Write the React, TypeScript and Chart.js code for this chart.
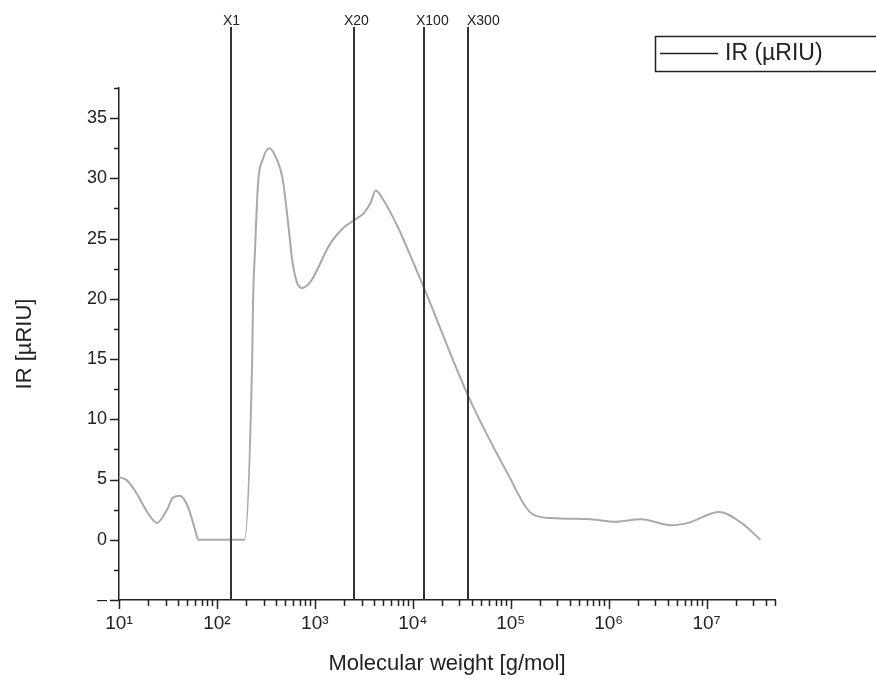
import React, { useEffect, useRef } from "react";
import { Chart, registerables } from "chart.js";

Chart.register(...registerables);

// Molecular weight (g/mol) and IR signal (µRIU)
const molWeight = [
  10, 12, 15, 19.4, 24.5, 30.9, 35.6, 41.9, 50.8, 60, 64.5, 191, 229, 234, 245, 263, 295, 343, 417, 468, 525,
  588, 661, 741, 900, 1440, 1960, 2600, 3150, 3720, 4170, 5010, 7000, 9550, 12900, 37000, 93000, 162000,
  257000, 660000, 1.15e6, 2.14e6, 4.36e6, 6.45e6, 1.35e7, 2.27e7, 3.55e7,
];
const irSignal = [
  5.2, 4.95, 3.9, 2.3, 1.4, 2.5, 3.5, 3.65, 2.7, 0.8, 0, 0, 14.9, 19.9, 24.1, 29.6, 31.6, 32.5, 31.4, 30.0, 26.8,
  23.2, 21.3, 20.9, 21.4, 24.6, 25.9, 26.6, 27.1, 28.0, 29.0, 28.2, 26.0, 23.5, 21.0, 11.9, 5.5, 2.2,
  1.8, 1.7, 1.5, 1.7, 1.2, 1.4, 2.3, 1.4, 0,
];

// Vertical marker lines
const markerLabels = ["X1", "X20", "X100", "X300"];
const markerValues = [140, 2540, 12900, 36500];

// Axis settings
const xMin = 10;
const xMax = 5e7;
const yMin = -5;
const yMax = 37.5;
const yMajorStep = 5;
const yMinorStep = 2.5;
const seriesLabel = "IR (µRIU)";
const xTitle = "Molecular weight [g/mol]";
const yTitle = "IR [µRIU]";

const FONT = "'Liberation Sans', Arial, sans-serif";
const INK = "#222";
const SUP = ["⁰", "¹", "²", "³", "⁴", "⁵", "⁶", "⁷", "⁸", "⁹"];
const markerShift = [-8, -10, -8, -1];

const overlayPlugin = {
  id: "overlay",
  afterDraw(chart: any) {
    const { ctx, chartArea, scales } = chart;
    const xs = scales.x;
    const ys = scales.y;
    ctx.save();
    ctx.strokeStyle = INK;
    ctx.lineWidth = 1.5;
    const seg = (x1: number, y1: number, x2: number, y2: number) => {
      ctx.beginPath();
      ctx.moveTo(x1, y1);
      ctx.lineTo(x2, y2);
      ctx.stroke();
    };
    // y ticks (outside, left)
    for (let v = yMin; v <= yMax + 1e-9; v += yMinorStep) {
      const py = Math.round(ys.getPixelForValue(v)) + 0.5;
      const major = Math.abs(v / yMajorStep - Math.round(v / yMajorStep)) < 1e-9;
      seg(chartArea.left - (major ? 9 : 5), py, chartArea.left, py);
    }
    // x ticks (outside, down)
    for (let e = 1; e <= 8; e++) {
      for (let m = 1; m <= 9; m++) {
        const v = m * Math.pow(10, e);
        if (v < xMin || v > xMax * 1.0001) continue;
        const px = Math.round(xs.getPixelForValue(v)) + 0.5;
        seg(px, chartArea.bottom, px, chartArea.bottom + (m === 1 ? 9 : 6));
      }
    }
    // marker lines
    ctx.strokeStyle = "#333";
    ctx.lineWidth = 2;
    ctx.fillStyle = INK;
    ctx.font = `14px ${FONT}`;
    ctx.textBaseline = "alphabetic";
    ctx.textAlign = "left";
    markerValues.forEach((v, i) => {
      const px = Math.round(xs.getPixelForValue(v));
      seg(px, 27, px, chartArea.bottom);
      ctx.fillText(markerLabels[i], px + markerShift[i], 25);
    });
    // legend
    ctx.strokeStyle = INK;
    ctx.lineWidth = 1.5;
    ctx.strokeRect(655.5, 36.5, 240, 35);
    seg(660, 53.5, 718, 53.5);
    ctx.font = `23px ${FONT}`;
    ctx.textBaseline = "middle";
    ctx.fillText(seriesLabel, 725, 54);
    ctx.restore();
  },
};

export default function App() {
  const ref = useRef<HTMLCanvasElement | null>(null);

  useEffect(() => {
    if (!ref.current) return;
    const points = molWeight.map((x, i) => ({ x, y: irSignal[i] }));
    const chart = new Chart(ref.current, {
      type: "line",
      data: {
        datasets: [
          {
            label: seriesLabel,
            data: points,
            borderColor: "#a9a9a9",
            borderWidth: 2,
            pointRadius: 0,
            fill: false,
            cubicInterpolationMode: "monotone",
          },
        ],
      },
      options: {
        responsive: false,
        animation: false,
        layout: { padding: { top: 88, right: 101, left: 0, bottom: 0 } },
        plugins: { legend: { display: false }, tooltip: { enabled: false } },
        scales: {
          x: {
            type: "logarithmic",
            min: xMin,
            max: xMax,
            grid: { display: false, drawTicks: false },
            border: { display: true, color: INK, width: 1.5 },
            ticks: {
              autoSkip: false,
              maxRotation: 0,
              padding: 12,
              color: INK,
              font: { family: FONT, size: 19 },
              callback: (value: any) => {
                const l = Math.log10(Number(value));
                const r = Math.round(l);
                if (Math.abs(l - r) < 1e-6) return "10" + String(r).split("").map((d) => SUP[+d]).join("");
                return "";
              },
            },
            title: {
              display: true,
              text: xTitle,
              color: INK,
              font: { family: FONT, size: 22 },
              padding: { top: 0, bottom: 2 },
            },
            afterFit: (s: any) => {
              s.height = 79;
            },
          },
          y: {
            type: "linear",
            min: yMin,
            max: yMax,
            grid: { display: false, drawTicks: false },
            border: { display: true, color: INK, width: 1.5 },
            ticks: {
              stepSize: yMajorStep,
              includeBounds: false,
              padding: 12,
              color: INK,
              font: { family: FONT, size: 18 },
              callback: (value: any) => (Number(value) === yMin ? "–" : String(value)),
            },
            title: {
              display: true,
              text: yTitle,
              color: INK,
              font: { family: FONT, size: 22 },
              padding: { top: 12, bottom: 0 },
            },
            afterFit: (s: any) => {
              s.width = 119;
            },
          },
        },
      },
      plugins: [overlayPlugin],
    } as any);
    return () => chart.destroy();
  }, []);

  return (
    <div style={{ position: "fixed", left: 0, top: 0, width: 876, height: 679, background: "#fff" }}>
      <canvas ref={ref} width={876} height={679} />
    </div>
  );
}
